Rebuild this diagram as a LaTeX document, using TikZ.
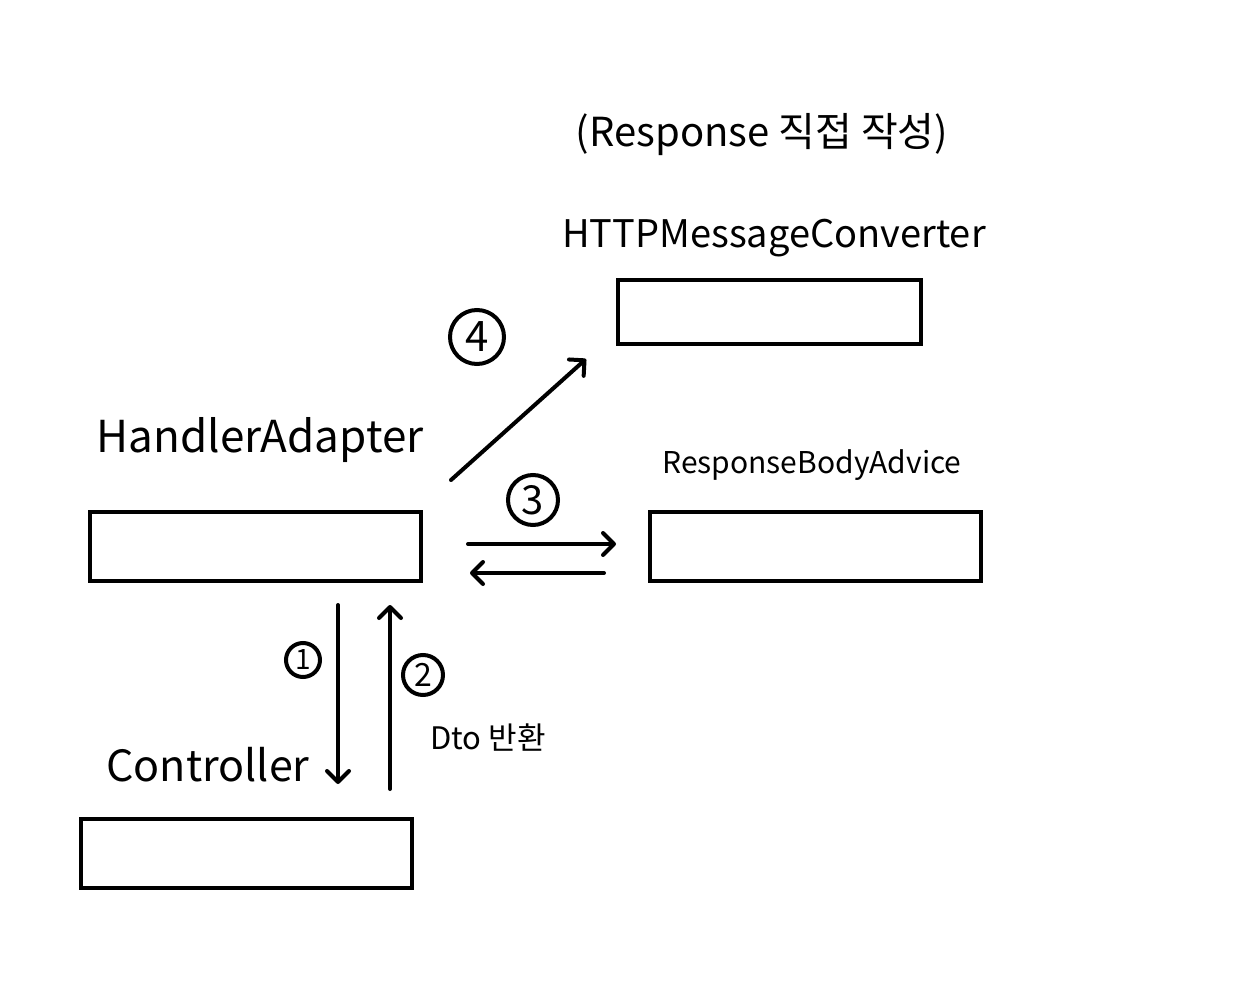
\documentclass[tikz,border=0pt]{standalone}
\usepackage{fontspec}
\setmainfont{Noto Sans CJK KR}
\usetikzlibrary{arrows.meta,calc}
\begin{document}
\begin{tikzpicture}[x=1pt,y=-1pt,
  box/.style={draw, line width=4pt, inner sep=0pt, minimum width=#1, minimum height=69pt},
  arr/.style={line width=4pt, line cap=round, -{Straight Barb[length=11pt,width=22pt,line width=4pt,round]}},
  lbl/.style={inner sep=0pt, font=\fontsize{#1}{#1}\selectfont},
  num/.style={circle, draw, line width=4pt, inner sep=0pt, minimum size=#1}]
\fill[white] (0,0) rectangle (1240,1000);
\useasboundingbox (0,0) rectangle (1240,1000);
% boxes
\node[box=303pt, minimum height=64pt] (http) at (769.5,312) {};
\node[box=331pt] (ha) at (255.5,546.5) {};
\node[box=331pt] (rba) at (815.5,546.5) {};
\node[box=331pt] (ctrl) at (246.5,853.5) {};
% labels
\node[lbl=40] (title) at (762,135) {(Response 직접 작성)};
\node[lbl=38] (httpl) at (774,238) {HTTPMessageConverter};
\node[lbl=44] (hal) at (260,440) {HandlerAdapter};
\node[lbl=30] (rbal) at (812,465) {ResponseBodyAdvice};
\node[lbl=43] (ctrll) at (208,765) {Controller};
\node[lbl=31] (dto) at (488,738) {Dto 반환};
% numbered circles
\node[num=54pt, font=\fontsize{42}{42}\selectfont] (n4) at (477,337) {4};
\node[num=50pt, font=\fontsize{40}{40}\selectfont] (n3) at (533,500) {3};
\node[num=34pt, font=\fontsize{28}{28}\selectfont] (n1) at (303,660) {1};
\node[num=40pt, font=\fontsize{32}{32}\selectfont] (n2) at (423,675) {2};
% connectors
\draw[arr] ($(ha.south)+(82.5,22)$) -- ($(ctrl.north)+(91.5,-33)$);
\draw[arr] ($(ctrl.north)+(143.5,-28)$) -- ($(ha.south)+(134.5,22)$);
\draw[arr] ($(ha.east)+(45,-2.5)$) -- ($(rba.west)+(-32,-2.5)$);
\draw[arr] ($(rba.west)+(-44,26.5)$) -- ($(ha.east)+(47,26.5)$);
\draw[arr] ($(ha.north east)+(28,-30)$) -- ($(http.south west)+(-30,13)$);
\end{tikzpicture}
\end{document}
